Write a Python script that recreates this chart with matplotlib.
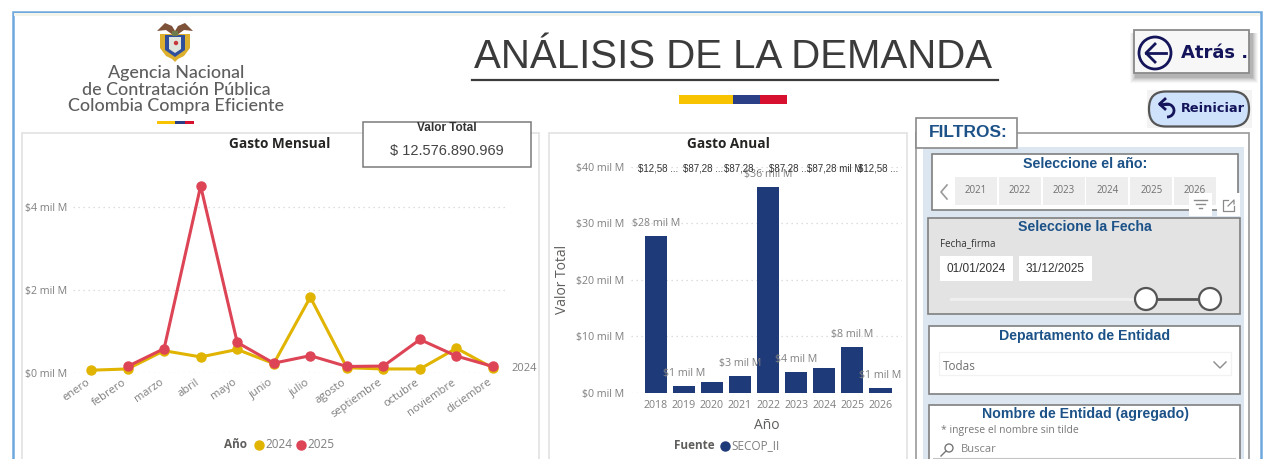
import matplotlib
matplotlib.use("Agg")
import matplotlib.pyplot as plt
from matplotlib.patches import Rectangle, FancyBboxPatch, Circle, Polygon, Arc, Ellipse
from matplotlib.transforms import ScaledTranslation

W, H = 1265, 459
SANS = "Liberation Sans"
UI = "Open Sans"
NAVY = "#1f3a78"
BLUE_T = "#1c5288"
GREY_T = "#7f7f7f"

MONTHS = ["enero", "febrero", "marzo", "abril", "mayo", "junio", "julio", "agosto",
          "septiembre", "octubre", "noviembre", "diciembre"]
VAL_2024 = [0.06, 0.09, 0.53, 0.38, 0.56, 0.22, 1.82, 0.12, 0.09, 0.09, 0.59, 0.11]
VAL_2025 = [None, 0.15, 0.58, 4.50, 0.73, 0.23, 0.41, 0.15, 0.16, 0.80, 0.40, 0.15]
MONTH_TICKS = [0, 2, 4]
MONTH_TICK_LABELS = ["$0 mil M", "$2 mil M", "$4 mil M"]

YEARS = [2018, 2019, 2020, 2021, 2022, 2023, 2024, 2025, 2026]
ANNUAL = [27.7, 1.18, 1.94, 3.06, 36.5, 3.65, 4.48, 8.13, 0.94]
ANNUAL_LABELS = ["$28 mil M", "$1 mil M", None, "$3 mil M", "$36 mil M", "$4 mil M",
                 None, "$8 mil M", "$1 mil M"]
ANNUAL_TICKS = [0, 10, 20, 30, 40]
ANNUAL_TICK_LABELS = ["$0 mil M", "$10 mil M", "$20 mil M", "$30 mil M", "$40 mil M"]
ROW_LABELS = ["$12,58 ...", "$87,28 ...", "$87,28 ...", "$87,28 ...", "$87,28 mil M", "$12,58 ..."]
ROW_X = [2018.1, 2019.68, 2021.13, 2022.75, 2024.37, 2025.9]

SLICER_YEARS = ["2021", "2022", "2023", "2024", "2025", "2026"]


def rect_axes(fig, x0, y0, x1, y1):
    # pixel box (y down) -> figure fraction
    return fig.add_axes([x0 / W, 1 - y1 / H, (x1 - x0) / W, (y1 - y0) / H])


def box(ax, x0, y0, x1, y1, fc="white", ec="#8c8c8c", lw=1.0, z=1):
    ax.add_patch(Rectangle((x0, y0), x1 - x0, y1 - y0, fc=fc, ec=ec, lw=lw, zorder=z))


fig = plt.figure(figsize=(W / 100, H / 100), dpi=100, facecolor="white")
bg = fig.add_axes([0, 0, 1, 1])
bg.set_xlim(0, W)
bg.set_ylim(H, 0)
bg.axis("off")

# page frame
box(bg, 12.5, 11.5, 1261, 470, fc="white", ec="#6fa8dc", lw=1.8)
bg.add_patch(Rectangle((14, 13), 1246, 3, fc="#f3f5ec", ec="none", zorder=1))

# logo
bg.add_patch(Polygon([(157, 31), (165, 23), (172, 26), (175, 31), (178, 26), (185, 23), (193, 31), (184, 30), (177, 35), (173, 35), (166, 30)],
                     fc="#7d5238", ec="none", zorder=2))
bg.add_patch(Polygon([(160, 34), (190, 34), (190, 48), (184, 56), (178, 59), (175, 62), (172, 59), (166, 56), (160, 48)],
                     fc="#dcb02e", ec="none", zorder=2))
bg.add_patch(Polygon([(165, 35), (185, 35), (185, 50), (175, 57), (165, 50)], fc="#2f4f9c", ec="none", zorder=3))
bg.add_patch(Polygon([(169, 37), (181, 37), (181, 49), (175, 53), (169, 49)], fc="#dfe4dc", ec="none", zorder=4))
bg.add_patch(Circle((176, 43), 2.2, fc="#c8343c", ec="none", zorder=5))
bg.add_patch(Rectangle((172, 31), 6, 5, fc="#6f7a4a", ec="none", zorder=5))
for txt, y in [("Agencia Nacional", 73), ("de Contratación Pública", 90), ("Colombia Compra Eficiente", 106.5)]:
    bg.text(176, y, txt, ha="center", va="center", fontsize=12.9, family="Lato", weight="medium", color="#5e5e5e", zorder=3)
for x0, x1, c in [(157, 175, "#f8c300"), (175, 185, "#2b3f87"), (185, 194, "#d7102f")]:
    bg.add_patch(Rectangle((x0, 120.5), x1 - x0, 3, fc=c, ec="none", zorder=3))

# title
bg.text(733, 57, "ANÁLISIS DE LA DEMANDA", ha="center", va="center", fontsize=29, family=SANS, color="#3b3b3b")
bg.plot([472, 998], [80, 80], color="#3b3b3b", lw=1.6)
for x0, x1, c in [(679, 733, "#f8c300"), (733, 760, "#2b3f87"), (760, 787, "#d7102f")]:
    bg.add_patch(Rectangle((x0, 95), x1 - x0, 9, fc=c, ec="none", zorder=3))

# chart panels
box(bg, 21.5, 133, 539, 470, ec="#e2e2e2", lw=1.2)
box(bg, 548.5, 133, 907, 470, ec="#e2e2e2", lw=1.2)
bg.text(280, 144, "Gasto Mensual", ha="center", va="center", fontsize=9.8, family=UI, weight="bold", color="#252423", zorder=3)
bg.text(728, 144, "Gasto Anual", ha="center", va="center", fontsize=9.8, family=UI, weight="bold", color="#252423", zorder=3)

# total card
box(bg, 362.5, 121.5, 531, 167, ec="#7a7a7a", lw=1.1, z=6)
bg.text(447, 128, "Valor Total", ha="center", va="center", fontsize=8.5, family=SANS, weight="bold", color="#333333", zorder=7)
bg.text(447, 151, "$ 12.576.890.969", ha="center", va="center", fontsize=10.5, family=SANS, color="#444444", zorder=7)

# monthly lines
step = 36.55
ax = rect_axes(fig, 73, 170, 507, 372.7)
ax.patch.set_alpha(0)
ax.set_xlim((73 - 91) / step, (507 - 91) / step)
ax.set_ylim(0, (372.7 - 170) / 41.5)
xs = list(range(len(MONTHS)))
ax.plot(xs, VAL_2024, color="#e0b400", lw=2.2, marker="o", ms=6.5, clip_on=False, zorder=3)
ax.plot(xs[1:], VAL_2025[1:], color="#dd4455", lw=2.2, marker="o", ms=6.5, clip_on=False, zorder=4)
ax.set_yticks(MONTH_TICKS)
ax.set_yticklabels(MONTH_TICK_LABELS, fontsize=7.7, family=UI, color=GREY_T)
ax.set_xticks(xs)
ax.set_xticklabels(MONTHS, rotation=35, ha="right", rotation_mode="anchor", fontsize=8, family=UI, color=GREY_T)
ax.tick_params(length=0, pad=3)
ax.tick_params(axis="y", pad=4)
shift = ScaledTranslation(-5 / 100, 0, fig.dpi_scale_trans)
for lb in ax.get_xticklabels():
    lb.set_transform(lb.get_transform() + shift)
ax.grid(axis="y", color="#d4d4d4", ls=(0, (1, 3)), lw=0.9)
for s in ax.spines.values():
    s.set_visible(False)
ax.annotate("2024", (xs[-1], VAL_2024[-1]), xytext=(22.5, 0), textcoords="offset points", ha="center", va="center",
            fontsize=8, family=UI, color=GREY_T, annotation_clip=False)

# monthly legend
bg.text(235, 445, "Año", ha="center", va="center", fontsize=8.5, family=UI, weight="bold", color="#605e5c", zorder=3)
bg.plot([259], [445], "o", color="#e0b400", ms=6.5, zorder=3)
bg.text(265, 445, "2024", va="center", fontsize=8.5, family=UI, color=GREY_T, zorder=3)
bg.plot([301], [445], "o", color="#dd4455", ms=6.5, zorder=3)
bg.text(307, 445, "2025", va="center", fontsize=8.5, family=UI, color=GREY_T, zorder=3)

# annual bars
ax2 = rect_axes(fig, 631, 166.7, 902, 393)
ax2.patch.set_alpha(0)
ax2.set_xlim(2018 + (631 - 655.7) / 28.1, 2018 + (902 - 655.7) / 28.1)
ax2.set_ylim(0, 40)
ax2.bar(YEARS, ANNUAL, width=0.79, color=NAVY, zorder=3)
for yr, v, lb in zip(YEARS, ANNUAL, ANNUAL_LABELS):
    if lb:
        ax2.annotate(lb, (yr, v), xytext=(0, 5), textcoords="offset points", ha="center", va="bottom",
                     fontsize=7.7, family=UI, color="#808080", zorder=5, annotation_clip=False)
for x, lb in zip(ROW_X, ROW_LABELS):
    ax2.text(x, 39.7, lb, ha="center", va="center", fontsize=7, family=SANS, color="#333333", zorder=6)
ax2.set_yticks(ANNUAL_TICKS)
ax2.set_yticklabels(ANNUAL_TICK_LABELS, fontsize=7.7, family=UI, color=GREY_T)
ax2.set_xticks(YEARS)
ax2.set_xticklabels(YEARS, fontsize=7.7, family=UI, color=GREY_T)
ax2.tick_params(length=0, pad=5)
ax2.grid(axis="y", color="#d4d4d4", ls=(0, (1, 3)), lw=0.9, zorder=0)
for s in ax2.spines.values():
    s.set_visible(False)
ax2.set_xlabel("Año", fontsize=10, family=UI, color="#605e5c", labelpad=5)
ax2.set_ylabel("Valor Total", fontsize=10, family=UI, color="#605e5c", labelpad=4)

bg.text(694, 445.5, "Fuente", ha="center", va="center", fontsize=8.5, family=UI, weight="bold", color="#605e5c", zorder=3)
bg.plot([725], [445.5], "o", color=NAVY, ms=6.5, zorder=3)
bg.text(731, 445.5, "SECOP_II", va="center", fontsize=8.5, family=UI, color=GREY_T, zorder=3)

# buttons
for i, a in zip(range(6, 0, -1), [0.04, 0.05, 0.06, 0.08, 0.10, 0.12]):
    bg.add_patch(Rectangle((1136 - i, 33), 116 + 2 * i, 44 + i, fc="#404040", ec="none", alpha=a, zorder=2))
box(bg, 1133.5, 29.5, 1249, 73, fc="#f7f7f7", ec="#8a8a8a", lw=1.3, z=3)
bg.add_patch(Circle((1155, 53), 16, fc="none", ec="#14145a", lw=2, zorder=4))
bg.plot([1146, 1166], [53, 53], color="#14145a", lw=2, zorder=4)
bg.plot([1155, 1146, 1155], [44, 53, 62], color="#14145a", lw=2, zorder=4)
bg.text(1181, 53, "Atrás .", va="center", fontsize=13, family="DejaVu Sans", weight="bold", color="#14145a", zorder=4)

bg.add_patch(Rectangle((1147, 90), 105, 38, fc="#f3f3f3", ec="none", zorder=2))
bg.add_patch(FancyBboxPatch((1149, 91.5), 100, 35, boxstyle="round,pad=0,rounding_size=17", fc="#cfe2fb", ec="#555555", lw=1.6, zorder=3))
bg.add_patch(Arc((1167, 110.5), 14, 13, theta1=-120, theta2=90, color="#14145a", lw=2, zorder=4))
bg.plot([1167, 1160], [104, 104], color="#14145a", lw=2, zorder=4)
bg.plot([1165, 1159.5, 1165], [99, 104, 109], color="#14145a", lw=2, zorder=4)
bg.text(1181, 109, "Reiniciar", va="center", fontsize=9.3, family="DejaVu Sans", weight="bold", color="#14145a", zorder=4)

# filter panel
box(bg, 915.5, 133, 1249, 470, ec="#9a9a9a", lw=1.2)
bg.add_patch(Rectangle((922.5, 147), 321.5, 323, fc="#dce6f0", ec="none", zorder=2))
box(bg, 915.5, 118, 1017, 148, ec="#8a8a8a", lw=1.2, z=3)
bg.text(929, 132.5, "FILTROS:", va="center", fontsize=12.5, family=SANS, weight="bold", color=BLUE_T, zorder=4)

# year slicer
box(bg, 931.5, 154, 1238, 210, ec="#7f7f7f", lw=1.2, z=3)
bg.text(1085, 163.5, "Seleccione el año:", ha="center", va="center", fontsize=10.3, family=SANS, weight="bold", color=BLUE_T, zorder=4)
bg.plot([947, 941, 947], [185, 192, 199], color="#9a9a9a", lw=1.2, zorder=4)
for i, yr in enumerate(SLICER_YEARS):
    x0 = 955 + i * 43.8
    bg.add_patch(Rectangle((x0, 177), 42, 28, fc="#eeeeee", ec="none", zorder=4))
    bg.text(x0 + 21, 190.5, yr, ha="center", va="center", fontsize=7, family=UI, color="#707070", zorder=5)
for x0 in (1189, 1217):
    bg.add_patch(Rectangle((x0, 193), 23, 23, fc="white", ec="none", zorder=6))
for y, a, b in [(200, 1194, 1207), (204, 1196, 1205), (208, 1199, 1202)]:
    bg.plot([a, b], [y, y], color="#8a8a8a", lw=1, zorder=7)
bg.plot([1228, 1223, 1223, 1234, 1234], [200, 200, 211, 211, 206], color="#8a8a8a", lw=0.9, zorder=7)
bg.plot([1228, 1234, 1234], [206, 200, 204], color="#8a8a8a", lw=0.9, zorder=7)

# date slicer
box(bg, 927.5, 217.5, 1240, 314, fc="#e3e3e3", ec="#7f7f7f", lw=1.2, z=3)
bg.text(1085, 227, "Seleccione la Fecha", ha="center", va="center", fontsize=10.2, family=SANS, weight="bold", color=BLUE_T, zorder=4)
bg.text(940, 244, "Fecha_firma", va="center", fontsize=7, family=UI, color="#333333", zorder=4)
for x0, x1, d in [(940, 1012.5, "01/01/2024"), (1019, 1091.5, "31/12/2025")]:
    bg.add_patch(Rectangle((x0, 256), x1 - x0, 25, fc="white", ec="none", zorder=4))
    bg.text((x0 + x1) / 2, 268.5, d, ha="center", va="center", fontsize=8.5, family=SANS, color="#333333", zorder=5)
bg.plot([951, 1146], [299, 299], color="#f0f0f0", lw=2, zorder=4)
bg.plot([1146, 1210], [299, 299], color="#555555", lw=2, zorder=4)
for x in (1146, 1210):
    bg.add_patch(Ellipse((x, 299), 22, 22, fc="white", ec="#555555", lw=1.6, zorder=5))

# department slicer
box(bg, 928.5, 326, 1240, 394, ec="#7f7f7f", lw=1.2, z=3)
bg.text(1085, 336, "Departamento de Entidad", ha="center", va="center", fontsize=10.2, family=SANS, weight="bold", color=BLUE_T, zorder=4)
box(bg, 938.5, 351.5, 1231, 375, ec="#f2f2f2", lw=0.9, z=4)
bg.text(943, 366, "Todas", va="center", fontsize=8.5, family=UI, color="#707070", zorder=5)
bg.plot([1214, 1220, 1226], [362, 368, 362], color="#8a8a8a", lw=1, zorder=5)

# entity slicer
box(bg, 928.5, 404.5, 1240, 470, ec="#7f7f7f", lw=1.2, z=3)
bg.text(1085, 414, "Nombre de Entidad (agregado)", ha="center", va="center", fontsize=10.2, family=SANS, weight="bold", color=BLUE_T, zorder=4)
bg.text(941, 431, "* ingrese el nombre sin tilde", va="center", fontsize=7.5, family=UI, color="#777777", zorder=4)
bg.add_patch(Circle((949, 448), 4, fc="none", ec="#777777", lw=1, zorder=4))
bg.plot([946, 941], [451, 456], color="#777777", lw=1, zorder=4)
bg.text(961, 450, "Buscar", va="center", fontsize=8, family=UI, color="#808080", zorder=4)
bg.plot([934, 1235], [458.5, 458.5], color="#c4c4c4", lw=1.5, zorder=4)

fig.savefig("out.png", dpi=100)
